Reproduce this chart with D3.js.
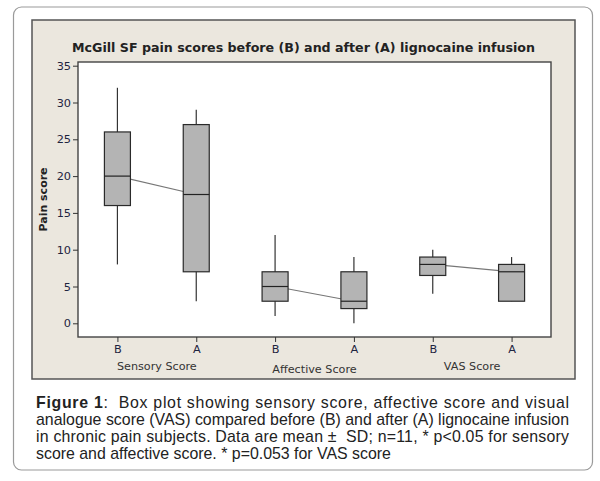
<!DOCTYPE html>
<html>
<head>
<meta charset="utf-8">
<script src="https://cdn.jsdelivr.net/npm/d3@7"></script>
<style>
  body { margin: 0; background: #fff; }
  svg { display: block; }
</style>
</head>
<body>
<script>
// box plot data
var groups = ["Sensory Score", "Affective Score", "VAS Score"];
var conds = ["B", "A"];
var whiskLow  = [8, 3, 1, 0, 4, 3];
var q1        = [16, 7, 3, 2, 6.5, 3];
var median    = [20, 17.5, 5, 3, 8, 7];
var q3        = [26, 27, 7, 7, 9, 8];
var whiskHigh = [32, 29, 12, 9, 10, 9];
var yTicks = [0, 5, 10, 15, 20, 25, 30, 35];

var caption = [
  "Box plot showing sensory score, affective score and visual",
  "analogue score (VAS) compared before (B) and after (A) lignocaine infusion",
  "in chronic pain subjects. Data are mean \u00b1\u00a0 SD; n=11, * p<0.05 for sensory",
  "score and affective score. * p=0.053 for VAS score"
];

var keys = [];
groups.forEach(function (g, gi) {
  conds.forEach(function (c, ci) { keys.push(gi + "-" + c); });
});
var boxes = keys.map(function (k, i) {
  return { key: k, group: Math.floor(i / 2), cond: conds[i % 2],
    lo: whiskLow[i], q1: q1[i], med: median[i], q3: q3[i], hi: whiskHigh[i] };
});

var svg = d3.select("body").append("svg")
  .attr("width", 600).attr("height", 481);

// outer figure frame
svg.append("rect")
  .attr("x", 13.5).attr("y", 7).attr("width", 579).attr("height", 463)
  .attr("rx", 8).attr("fill", "#fff").attr("stroke", "#9a9a9a").attr("stroke-width", 1.2);

// chart panel
svg.append("rect")
  .attr("x", 32).attr("y", 20).attr("width", 543).attr("height", 359)
  .attr("fill", "#ebe7de").attr("stroke", "#555").attr("stroke-width", 1.5);

var plot = { l: 78, t: 62, r: 551, b: 337 };

svg.append("rect")
  .attr("x", plot.l).attr("y", plot.t)
  .attr("width", plot.r - plot.l).attr("height", plot.b - plot.t)
  .attr("fill", "#fff").attr("stroke", "#444").attr("stroke-width", 1.4);

var x = d3.scalePoint().domain(keys).range([plot.l, plot.r]).padding(0.5);
var y = d3.scaleLinear().domain([0, 35]).range([323.3, 65.7]);

// y axis
var yAxis = svg.append("g")
  .attr("transform", "translate(" + plot.l + ",0)")
  .call(d3.axisLeft(y).tickValues(yTicks).tickSize(5).tickPadding(2));
yAxis.select(".domain").remove();
yAxis.selectAll("line").attr("stroke", "#333");
yAxis.selectAll("text")
  .attr("font-family", "DejaVu Sans").attr("font-size", 11.3).attr("fill", "#1e2440");

// x axis
var xAxis = svg.append("g")
  .attr("transform", "translate(0," + plot.b + ")")
  .call(d3.axisBottom(x).tickSize(5).tickPadding(3)
    .tickFormat(function (k) { return k.split("-")[1]; }));
xAxis.select(".domain").remove();
xAxis.selectAll("line").attr("stroke", "#333");
xAxis.selectAll("text")
  .attr("font-family", "DejaVu Sans").attr("font-size", 11.3).attr("fill", "#1e2440");

// group labels
svg.selectAll("text.grp")
  .data(groups)
  .enter()
  .append("text")
  .attr("class", "grp")
  .attr("x", function (g, i) { return (x(i + "-B") + x(i + "-A")) / 2; })
  .attr("y", function (g, i) { return i === 1 ? 373 : 370; })
  .attr("text-anchor", "middle")
  .attr("font-family", "DejaVu Sans").attr("font-size", 11.2)
  .attr("fill", "#333")
  .text(function (g) { return g; });

// median connect lines (behind boxes)
svg.selectAll("line.conn")
  .data(groups)
  .enter()
  .append("line")
  .attr("class", "conn")
  .attr("x1", function (g, i) { return x(i + "-B"); })
  .attr("x2", function (g, i) { return x(i + "-A"); })
  .attr("y1", function (g, i) { return y(median[i * 2]); })
  .attr("y2", function (g, i) { return y(median[i * 2 + 1]); })
  .attr("stroke", "#777").attr("stroke-width", 1.1);

var bw = 26;
var bg = svg.selectAll("g.box")
  .data(boxes)
  .enter()
  .append("g")
  .attr("class", "box")
  .attr("transform", function (d) { return "translate(" + x(d.key) + ",0)"; });

bg.append("line")
  .attr("y1", function (d) { return y(d.hi); })
  .attr("y2", function (d) { return y(d.lo); })
  .attr("stroke", "#333").attr("stroke-width", 1.2);

bg.append("rect")
  .attr("x", -bw / 2).attr("width", bw)
  .attr("y", function (d) { return y(d.q3); })
  .attr("height", function (d) { return y(d.q1) - y(d.q3); })
  .attr("fill", "#b4b4b4").attr("stroke", "#2a2a2a").attr("stroke-width", 1.2);

bg.append("line")
  .attr("x1", -bw / 2).attr("x2", bw / 2)
  .attr("y1", function (d) { return y(d.med); })
  .attr("y2", function (d) { return y(d.med); })
  .attr("stroke", "#222").attr("stroke-width", 1.2);

// title
svg.append("text")
  .attr("x", 303.5).attr("y", 52)
  .attr("text-anchor", "middle")
  .attr("font-family", "DejaVu Sans").attr("font-weight", "bold").attr("font-size", 12)
  .attr("fill", "#222")
  .attr("textLength", 463).attr("lengthAdjust", "spacingAndGlyphs")
  .text("McGill SF pain scores before (B) and after (A) lignocaine infusion");

// y label
svg.append("text")
  .attr("transform", "translate(47,199.5) rotate(-90)")
  .attr("text-anchor", "middle")
  .attr("font-family", "DejaVu Sans").attr("font-weight", "bold").attr("font-size", 11)
  .attr("fill", "#222")
  .text("Pain score");

// caption
var cap = svg.append("g")
  .attr("font-family", "'Liberation Sans', Arial, sans-serif").attr("font-size", 15.9).attr("fill", "#222");
caption.forEach(function (line, i) {
  var t = cap.append("text")
    .attr("x", 36).attr("y", 408 + i * 17);
  if (i === 0) {
    t.append("tspan").attr("font-weight", "bold").text("Figure 1");
    t.append("tspan").text(":\u00a0 " + line);
  } else {
    t.text(line);
  }
  if (i < caption.length - 1) {
    t.attr("textLength", 533).attr("lengthAdjust", "spacing");
  }
});
</script>
</body>
</html>
